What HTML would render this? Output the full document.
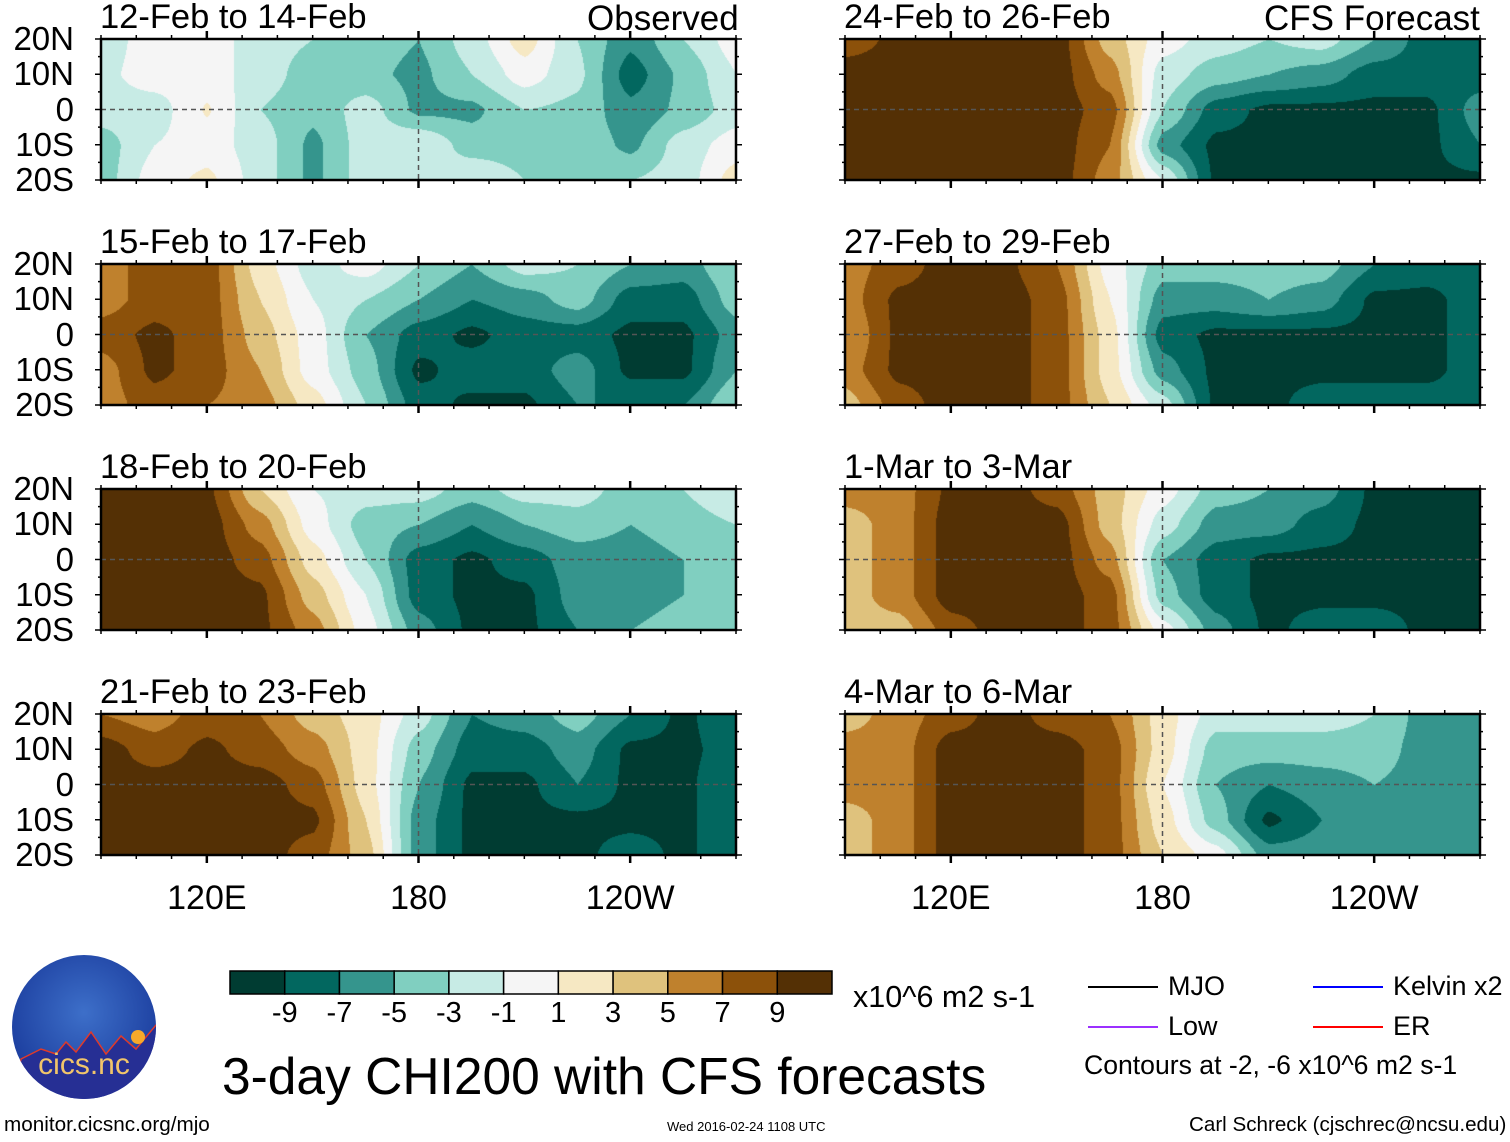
<!DOCTYPE html>
<html><head><meta charset="utf-8">
<style>
body{margin:0;background:#fff;width:1510px;height:1142px;position:relative;overflow:hidden;font-family:"Liberation Sans",Arial,sans-serif;color:#000}
.t{position:absolute;white-space:nowrap;line-height:1}
canvas,svg{position:absolute}
</style></head><body>
<div id="root"></div>
<script>
const lons=[90,105,120,135,150,165,180,195,210,225,240,255,270];
const lats=[20,10,0,-10,-20];
const levels=[-9,-7,-5,-3,-1,1,3,5,7,9];
const colors=["#003c32","#02675f","#35958d","#80cfc0","#c7ebe5","#f5f5f5","#f6e8c3","#dfc27d","#bf812d","#8c510a","#543005"];
const titles=["12-Feb to 14-Feb","15-Feb to 17-Feb","18-Feb to 20-Feb","21-Feb to 23-Feb","24-Feb to 26-Feb","27-Feb to 29-Feb","1-Mar to 3-Mar","4-Mar to 6-Mar"];
const p1=[[-2,0,0,-2,-3,-4,-5,-2,2,-3,-6.5,-3,0],[-1.5,0,0,-2,-4,-4.5,-5.5,-3,0,-2.5,-8,-4.5,-1],[-2,-2,1.2,-3,-4.5,-2,-5.5,-5.5,-3,-3.5,-6.5,-4.5,-2],[-4,-1,0,-2,-5.5,-2,-1,-4,-4,-3.5,-5.5,-2,0],[-4,0,1.5,-2,-5.5,-2,-3,-1,-3,-4,-3,-2,2]];
const p2=[[6,8,8,2,-2,0,-3,-5,-2,-3,-5,-6,-3],[6,8,8,3,-1,-3,-5,-7,-6,-4,-8,-8,-4],[8,9.5,8,4,0,-5,-8,-9.5,-8,-8,-9.5,-9.5,-6],[6,9.5,8,5,0,-4,-9.5,-8,-8,-6,-9.5,-9.5,-5],[6,8,7,6,2,-3,-8,-9.5,-9.5,-7,-7,-7,-3]];
const p3=[[10,10,9.5,3,-1,-2,-2,-4,-2,-2,-4,-3,-1],[10,10,10,6,0,-4,-5,-7,-5,-4,-5,-4,-3],[10,10,10,8,2,-3,-8,-9.5,-8,-6,-6,-5,-4],[10,10,10,9.5,4,-1,-8,-9.5,-9.5,-6,-6,-5,-4],[10,10,10,9.5,6,0,-6,-9.5,-9.5,-7,-5,-4,-4]];
const p4=[[7,6,8,7,4,2,-2,-7,-6,-4,-7,-9.5,-7],[10,8,9.5,8,6,2,-4,-8,-8,-6,-9.5,-9.5,-8],[10,10,10,10,8,2,-5,-9.5,-9.5,-7,-9.5,-9.5,-7],[10,10,10,10,9.5,3,-6,-9.5,-9.5,-9.5,-9.5,-9.5,-7],[10,10,10,10,8,4,-6,-9.5,-9.5,-9.5,-8,-9.5,-7]];
const p5=[[8,9.5,10,10,10,4,0,-2,-3,-2,-5,-8,-8],[10,10,10,10,10,6,-2,-4,-5,-6,-8,-8,-8],[10,10,10,10,10,8,-3,-8,-9.5,-9.5,-9.5,-9.5,-6],[10,10,10,10,10,7,-6,-9.5,-9.5,-9.5,-9.5,-9.5,-7],[10,10,10,10,10,6,-1,-9.5,-9.5,-9.5,-9.5,-9.5,-9.5]];
const p6=[[6,8,10,9.5,7,0,-4,-4,-4,-4,-7,-8,-8],[6,9.5,10,10,8,1,-6,-6,-5,-6,-9.5,-9.5,-8],[5,9.5,10,10,8,2,-8,-9.5,-9.5,-9.5,-9.5,-9.5,-8],[6,9.5,10,10,8,2,-6,-9.5,-9.5,-9.5,-9.5,-9.5,-8],[4,8,10,10,8,3,-2,-9.5,-9.5,-8,-8,-8,-8]];
const p7=[[6,6,9.5,10,8,4,0,-4,-5,-6,-9.5,-9.5,-9.5],[4,6,10,10,10,4,-2,-6,-6,-8,-9.5,-9.5,-9.5],[4,6,10,10,10,6,-5,-8,-9.5,-9.5,-9.5,-9.5,-9.5],[4,6,10,10,10,8,-4,-8,-9.5,-9.5,-9.5,-9.5,-9.5],[4,4,8,10,10,8,0,-6,-9.5,-8,-8,-9.5,-9.5]];
const p8=[[4,6,8,10,8,7,2,-2,-2,-2,-3,-6,-7],[6,6,10,10,10,8,2,-4,-4,-4,-4,-6,-7],[6,6,10,10,10,8,1,-5,-7,-6,-5,-6,-7],[4,6,10,10,10,8,2,-4,-9.5,-7,-5,-6,-7],[4,6,10,10,10,8,3,0,-6,-6,-5,-6,-7]];
const panels=[p1,p2,p3,p4,p5,p6,p7,p8];
const xTicks=[{lon:120,label:"120E"},{lon:180,label:"180"},{lon:240,label:"120W"}];
const yTicks=[{lat:20,label:"20N"},{lat:10,label:"10N"},{lat:0,label:"0"},{lat:-10,label:"10S"},{lat:-20,label:"20S"}];

const W=635,H=141;
const lefts=[101,845], tops=[39,264,489,714];
function xScale(lon){return (lon-90)/180*W;}
function yScale(lat){return (20-lat)/40*H;}
function classify(v){let i=0;while(i<levels.length&&v>=levels[i])i++;return i;}
function hex(c){return [parseInt(c.slice(1,3),16),parseInt(c.slice(3,5),16),parseInt(c.slice(5,7),16)];}
const rgb=colors.map(hex);
function sample(g,lon,lat){
  let fx=(lon-lons[0])/(lons[1]-lons[0]);let fy=(lats[0]-lat)/(lats[0]-lats[1]);
  fx=Math.max(0,Math.min(lons.length-1.0001,fx));fy=Math.max(0,Math.min(lats.length-1.0001,fy));
  const i=Math.floor(fx),j=Math.floor(fy),a=fx-i,b=fy-j;
  let sa=a*a*(3-2*a)*0.5+a*0.5, sb=b*b*(3-2*b)*0.5+b*0.5;
  return g[j][i]*(1-sa)*(1-sb)+g[j][i+1]*sa*(1-sb)+g[j+1][i]*(1-sa)*sb+g[j+1][i+1]*sa*sb;
}
function txt(s,x,y,size,name){const d=document.createElement('div');d.className='t';d.textContent=s;d.style.left=x+'px';d.style.top=y+'px';d.style.fontSize=size+'px';


document.body.appendChild(d);return d;}

panels.forEach((g,k)=>{
  const col=k<4?0:1,row=k%4,L=lefts[col],T=tops[row];
  const cv=document.createElement('canvas');cv.width=W;cv.height=H;cv.style.left=L+'px';cv.style.top=T+'px';
  
  
  document.body.appendChild(cv);
  const ctx=cv.getContext('2d');const im=ctx.createImageData(W,H);
  for(let y=0;y<H;y++){const lat=20-y/H*40;for(let x=0;x<W;x++){const lon=90+x/W*180;const c=rgb[classify(sample(g,lon,lat))];const p=(y*W+x)*4;im.data[p]=c[0];im.data[p+1]=c[1];im.data[p+2]=c[2];im.data[p+3]=255;}}
  ctx.putImageData(im,0,0);
  const NS='http://www.w3.org/2000/svg';
  const sv=document.createElementNS(NS,'svg');sv.setAttribute('width',W+20);sv.setAttribute('height',H+20);sv.style.left=(L-10)+'px';sv.style.top=(T-10)+'px';
  
  
  let s='';
  s+=`<line x1="10" y1="${10+yScale(0)}" x2="${10+W}" y2="${10+yScale(0)}" stroke="#555" stroke-width="1.5" stroke-dasharray="5,4"/>`;
  s+=`<line x1="${10+xScale(180)}" y1="10" x2="${10+xScale(180)}" y2="${10+H}" stroke="#555" stroke-width="1.5" stroke-dasharray="5,4"/>`;
  s+=`<rect x="10" y="10" width="${W}" height="${H}" fill="none" stroke="#000" stroke-width="2.5"/>`;
  for(let lon=90;lon<=270;lon+=10){const x=10+xScale(lon);const big=xTicks.some(t=>t.lon===lon);const l=big?8:4;
    s+=`<line x1="${x}" y1="10" x2="${x}" y2="${10-l}" stroke="#000" stroke-width="${big?2.5:1.5}"/><line x1="${x}" y1="${10+H}" x2="${x}" y2="${10+H+l}" stroke="#000" stroke-width="${big?2.5:1.5}"/>`;}
  for(let lat=-20;lat<=20;lat+=5){const y=10+yScale(lat);const big=lat%10===0;const l=big?6:3;
    s+=`<line x1="10" y1="${y}" x2="${10-l}" y2="${y}" stroke="#000" stroke-width="1.5"/><line x1="${10+W}" y1="${y}" x2="${10+W+l}" y2="${y}" stroke="#000" stroke-width="1.5"/>`;}
  sv.innerHTML=s;document.body.appendChild(sv);
  txt(titles[k],L-1,T-39,34.5,'panel-title-'+(k+1));
  if(col===0){yTicks.forEach(t=>{const d=txt(t.label,0,T+yScale(t.lat)-17,33,'y-tick-label');d.style.width='74px';d.style.textAlign='right';});}
  if(row===3){xTicks.forEach(t=>{const d=txt(t.label,L+xScale(t.lon)-70,T+H+26,34,'x-tick-label');d.style.width='140px';d.style.textAlign='center';});}
});
txt("Observed",587,1,35,'observed-label');
txt("CFS Forecast",1264,1,35,'cfs-forecast-label');

const cbX=230,cbY=971,cbW=602,cbH=23;
const cb=document.createElementNS('http://www.w3.org/2000/svg','svg');cb.setAttribute('width',cbW+4);cb.setAttribute('height',cbH+4);cb.style.left=(cbX-2)+'px';cb.style.top=(cbY-2)+'px';


let cs='';const bw=cbW/colors.length;
colors.forEach((c,i)=>{cs+=`<rect x="${2+i*bw}" y="2" width="${bw}" height="${cbH}" fill="${c}" stroke="#000" stroke-width="1.5"/>`;});
cb.innerHTML=cs;document.body.appendChild(cb);
levels.forEach((v,i)=>{const d=txt(String(v),cbX+(i+1)*bw-30,cbY+28,29,'colorbar-tick');d.style.width='60px';d.style.textAlign='center';});
txt("x10^6 m2 s-1",853,982,30.5,'colorbar-units');
txt("3-day CHI200 with CFS forecasts",222,1051,51.5,'chart-title');
txt("monitor.cicsnc.org/mjo",4,1115,20.7,'source-url');
txt("Wed 2016-02-24 1108 UTC",667,1120,13,'timestamp');
txt("Carl Schreck (cjschrec@ncsu.edu)",1189,1115,20.6,'author-credit');
txt("Contours at -2, -6 x10^6 m2 s-1",1084,1052,26.6,'contour-note');
const legend=[["MJO","#000",1088,987],["Low","#9b30ff",1088,1027],["Kelvin x2","#0000ff",1313,987],["ER","#ff0000",1313,1027]];
legend.forEach(l=>{const d=document.createElement('div');d.style.cssText=`position:absolute;left:${l[2]}px;top:${l[3]-1}px;width:70px;height:2px;background:${l[1]}`;


document.body.appendChild(d);txt(l[0],l[2]+80,l[3]-14,27,'legend-entry');});
</script>
<svg width="150" height="150" style="left:11px;top:954px">
<defs><radialGradient id="lg" cx="50%" cy="40%" r="60%"><stop offset="0" stop-color="#3d6fc9"/><stop offset="1" stop-color="#1a3b9c"/></radialGradient>
<clipPath id="cc"><circle cx="73" cy="73" r="72"/></clipPath></defs>
<circle cx="73" cy="73" r="72" fill="url(#lg)"/>
<path d="M10,105 L30,95 L45,100 L55,88 L65,98 L80,78 L95,100 L110,82 L125,95 L150,65 L150,150 L0,150Z" fill="#262f94" stroke="#e03a2a" stroke-width="1.5" clip-path="url(#cc)"/>
<circle cx="127" cy="83" r="7" fill="#f7a92a"/>
<text x="73" y="120" font-family="Liberation Sans" font-size="30" fill="#f1c56a" text-anchor="middle">cics.nc</text>
</svg>
</body></html>
